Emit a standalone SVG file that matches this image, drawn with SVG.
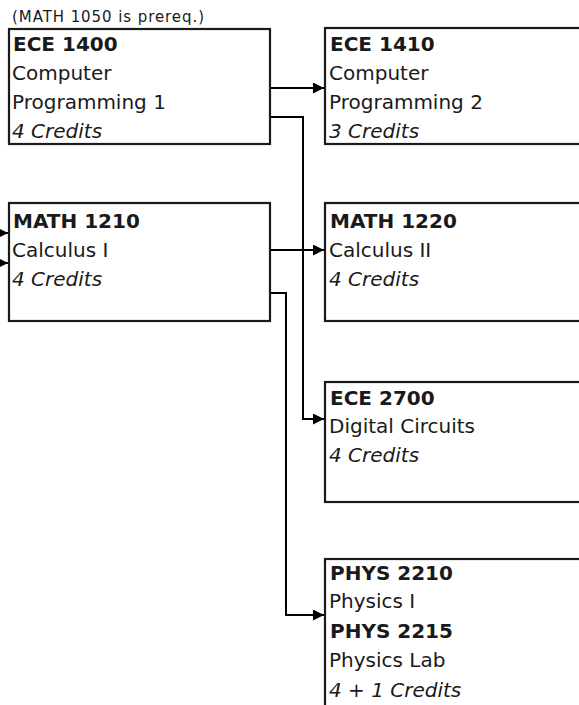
<svg xmlns="http://www.w3.org/2000/svg" width="579" height="705" viewBox="0 0 579 705">
<style>
.box{fill:#fff;stroke:#1a1a1a;stroke-width:2.2}
.t{font-family:"DejaVu Sans",sans-serif;font-size:20px;fill:#1a1a1a}
.b{font-weight:bold}
.i{font-style:italic}
.c{fill:none;stroke:#000;stroke-width:2}
.note{font-family:"DejaVu Sans",sans-serif;font-size:15px;fill:#1a1a1a}
</style>
<defs>
<marker id="ah" markerWidth="11" markerHeight="11" refX="11" refY="5.5" orient="auto" markerUnits="userSpaceOnUse">
<path d="M0,0 L11,5.5 L0,11 Z" fill="#000"/>
</marker>
</defs>
<rect width="579" height="705" fill="#fff"/>
<text class="note" x="12" y="22" textLength="192">(MATH 1050 is prereq.)</text>
<g id="ece1400">
<rect class="box" x="9" y="29" width="261" height="115"/>
<text class="t b" x="13" y="51">ECE 1400</text>
<text class="t" x="12" y="80">Computer</text>
<text class="t" x="12" y="109">Programming 1</text>
<text class="t i" x="12" y="138">4 Credits</text>
</g>
<g id="ece1410">
<rect class="box" x="325" y="28" width="270" height="116"/>
<text class="t b" x="330" y="51">ECE 1410</text>
<text class="t" x="329" y="80">Computer</text>
<text class="t" x="329" y="109">Programming 2</text>
<text class="t i" x="329" y="138">3 Credits</text>
</g>
<g id="math1210">
<rect class="box" x="9" y="203" width="261" height="118"/>
<text class="t b" x="13" y="228">MATH 1210</text>
<text class="t" x="12" y="257">Calculus I</text>
<text class="t i" x="12" y="286">4 Credits</text>
</g>
<g id="math1220">
<rect class="box" x="325" y="203" width="270" height="118"/>
<text class="t b" x="330" y="228">MATH 1220</text>
<text class="t" x="329" y="257">Calculus II</text>
<text class="t i" x="329" y="286">4 Credits</text>
</g>
<g id="ece2700">
<rect class="box" x="325" y="382" width="270" height="120"/>
<text class="t b" x="330" y="405">ECE 2700</text>
<text class="t" x="329" y="433">Digital Circuits</text>
<text class="t i" x="329" y="462">4 Credits</text>
</g>
<g id="phys2210">
<rect class="box" x="325" y="559" width="270" height="160"/>
<text class="t b" x="330" y="580">PHYS 2210</text>
<text class="t" x="329" y="608">Physics I</text>
<text class="t b" x="330" y="638">PHYS 2215</text>
<text class="t" x="329" y="667">Physics Lab</text>
<text class="t i" x="329" y="697">4 + 1 Credits</text>
</g>
<g id="connectors">
<path class="c" d="M270,88 H324" marker-end="url(#ah)"/>
<path class="c" d="M270,117 H303 V419 H324" marker-end="url(#ah)"/>
<path class="c" d="M270,250 H324" marker-end="url(#ah)"/>
<path class="c" d="M270,293 H286 V615 H324" marker-end="url(#ah)"/>
<path class="c" d="M-5,233 H8" marker-end="url(#ah)"/>
<path class="c" d="M-5,263 H8" marker-end="url(#ah)"/>
</g>
</svg>
